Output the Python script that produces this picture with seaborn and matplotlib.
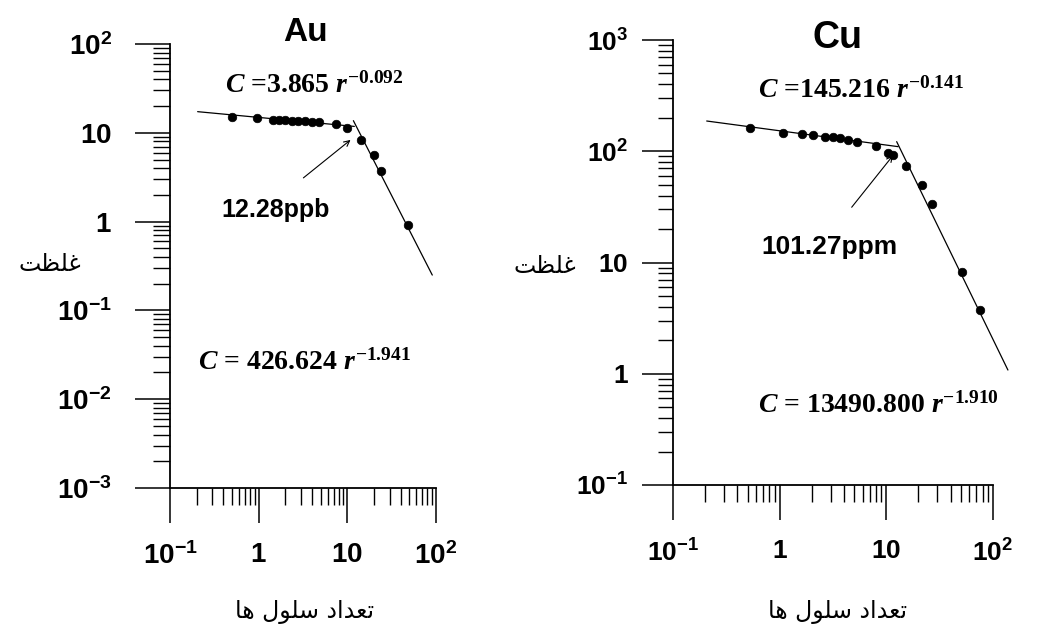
import matplotlib
matplotlib.use("Agg")
import matplotlib.pyplot as plt
import matplotlib.ticker as mticker
import seaborn as sns

# Au: number of cells vs concentration (ppb)
au_cells = [0.50, 0.96, 1.45, 1.7, 2.0, 2.4, 2.8, 3.3, 4.0, 4.8, 7.5, 9.8, 14.3, 20.1, 23.9, 48.9]
au_conc = [15.0, 14.6, 14.0, 13.9, 13.8, 13.7, 13.6, 13.5, 13.4, 13.2, 12.6, 11.3, 8.3, 5.6, 3.67, 0.92]
# fitted segments (end points)
au_fit1_x = [0.205, 12.0]
au_fit1_y = [17.3, 11.8]
au_fit2_x = [11.7, 90.8]
au_fit2_y = [13.7, 0.25]

# Cu: number of cells vs concentration (ppm)
cu_cells = [0.527, 1.07, 1.61, 2.07, 2.66, 3.18, 3.67, 4.4, 5.27, 8.0, 10.4, 11.5, 15.3, 21.4, 26.6, 50.8, 75.3]
cu_conc = [161, 145, 142, 139, 134, 133, 131, 126, 122, 112, 97, 93, 73.6, 49.5, 33.6, 8.26, 3.74]
cu_fit1_x = [0.207, 12.9]
cu_fit1_y = [187, 110]
cu_fit2_x = [12.5, 138]
cu_fit2_y = [122, 1.08]

x_ticks = [0.1, 1, 10, 100]
x_labels = [r"$\mathsf{10^{-1}}$", r"$\mathsf{1}$", r"$\mathsf{10}$", r"$\mathsf{10^{2}}$"]
au_y_ticks = [1e-3, 1e-2, 1e-1, 1, 10, 100]
au_y_labels = [r"$\mathsf{10^{-3}}$", r"$\mathsf{10^{-2}}$", r"$\mathsf{10^{-1}}$",
               r"$\mathsf{1}$", r"$\mathsf{10}$", r"$\mathsf{10^{2}}$"]
cu_y_ticks = [0.1, 1, 10, 100, 1000]
cu_y_labels = [r"$\mathsf{10^{-1}}$", r"$\mathsf{1}$", r"$\mathsf{10}$",
               r"$\mathsf{10^{2}}$", r"$\mathsf{10^{3}}$"]

au_eq_top = r"$\mathit{C}$ =3.865 $\mathit{r}^{-0.092}$"
au_eq_bot = r"$\mathit{C}$ = 426.624 $\mathit{r}^{-1.941}$"
cu_eq_top = r"$\mathit{C}$ =145.216 $\mathit{r}^{-0.141}$"
cu_eq_bot = r"$\mathit{C}$ = 13490.800 $\mathit{r}^{-1.910}$"

# Persian labels, written in shaped presentation forms in visual order
# "غلظت" (concentration) and "تعداد سلول ها" (number of cells)
y_label_fa = "\uFE96\uFEC8\uFEE0\uFECF"
x_label_fa = "\uFE8E\uFEEB \uFEDD\uFEEE\uFEE0\uFEB3 \uFEA9\uFE8D\uFEAA\uFECC\uFE97"

sns.set_style("ticks")
plt.rcParams["font.family"] = ["Liberation Sans", "DejaVu Sans"]
plt.rcParams["text.color"] = "black"
plt.rcParams["axes.labelcolor"] = "black"
plt.rcParams["xtick.color"] = "black"
plt.rcParams["ytick.color"] = "black"
plt.rcParams["mathtext.fontset"] = "custom"
plt.rcParams["mathtext.rm"] = "Liberation Serif:bold"
plt.rcParams["mathtext.it"] = "Liberation Serif:italic:bold"
plt.rcParams["mathtext.sf"] = "Liberation Sans:bold"
plt.rcParams["mathtext.bf"] = "Liberation Sans:bold"


def style_axis(ax, yticks, ylabels, ylim, ymaj, ymin, ypad, tick_fs):
    ax.set_xscale("log")
    ax.set_yscale("log")
    ax.set_xlim(0.1, 100)
    ax.set_ylim(*ylim)
    ax.set_xticks(x_ticks, x_labels)
    ax.set_yticks(yticks, ylabels)
    ax.xaxis.set_minor_locator(mticker.LogLocator(base=10, subs=range(2, 10), numticks=20))
    ax.yaxis.set_minor_locator(mticker.LogLocator(base=10, subs=range(2, 10), numticks=20))
    ax.xaxis.set_minor_formatter(mticker.NullFormatter())
    ax.yaxis.set_minor_formatter(mticker.NullFormatter())
    ax.tick_params(axis="x", which="major", direction="out", length=25, width=1.1,
                   pad=14, labelsize=tick_fs, colors="black")
    ax.tick_params(axis="x", which="minor", direction="out", length=12, width=1.0)
    ax.tick_params(axis="y", which="major", direction="out", length=ymaj, width=1.1,
                   pad=ypad, labelsize=tick_fs, colors="black")
    ax.tick_params(axis="y", which="minor", direction="out", length=ymin, width=1.0)
    for s in ["top", "right"]:
        ax.spines[s].set_visible(False)
    for s in ["left", "bottom"]:
        ax.spines[s].set_linewidth(1.3)
        ax.spines[s].set_color("black")
    ax.set_xlabel("")
    ax.set_ylabel("")


def draw_panel(ax, cells, conc, f1x, f1y, f2x, f2y):
    sns.lineplot(x=f1x, y=f1y, ax=ax, color="black", lw=0.9, estimator=None,
                 sort=False, clip_on=False)
    sns.lineplot(x=f2x, y=f2y, ax=ax, color="black", lw=0.9, estimator=None,
                 sort=False, clip_on=False)
    sns.scatterplot(x=cells, y=conc, ax=ax, color="black", marker="o", s=38,
                    edgecolor="black", linewidth=0.5, zorder=3)


fig = plt.figure(figsize=(10.56, 6.28), dpi=100)
ax1 = fig.add_axes([170 / 1056, 1 - 488 / 628, 266 / 1056, 444 / 628])
ax2 = fig.add_axes([673 / 1056, 1 - 485 / 628, 320 / 1056, 445 / 628])

# Au panel
draw_panel(ax1, au_cells, au_conc, au_fit1_x, au_fit1_y, au_fit2_x, au_fit2_y)
style_axis(ax1, au_y_ticks, au_y_labels, (1e-3, 100), 25, 12, 17, 20)
ax1.text(0.508, 1.027, "Au", transform=ax1.transAxes, ha="center", va="center",
         fontsize=24, fontweight="bold")
ax1.text(0.207, 0.89, au_eq_top, transform=ax1.transAxes, ha="left", va="baseline",
         fontsize=20, family="Liberation Serif", fontweight="bold")
ax1.text(0.105, 0.266, au_eq_bot, transform=ax1.transAxes, ha="left", va="baseline",
         fontsize=20, family="Liberation Serif", fontweight="bold")
ax1.annotate("", xy=(11.5, 8.7), xytext=(3.02, 2.97),
             arrowprops=dict(arrowstyle="->", color="black", lw=0.8, mutation_scale=10))
ax1.text(0.398, 0.626, "12.28ppb", transform=ax1.transAxes, ha="center", va="center",
         fontsize=18, fontweight="bold")

# Cu panel
draw_panel(ax2, cu_cells, cu_conc, cu_fit1_x, cu_fit1_y, cu_fit2_x, cu_fit2_y)
style_axis(ax2, cu_y_ticks, cu_y_labels, (0.1, 1000), 22, 11, 10, 19)
ax2.text(0.513, 1.004, "Cu", transform=ax2.transAxes, ha="center", va="center",
         fontsize=27, fontweight="bold")
ax2.text(0.266, 0.87, cu_eq_top, transform=ax2.transAxes, ha="left", va="baseline",
         fontsize=20, family="Liberation Serif", fontweight="bold")
ax2.text(0.266, 0.162, cu_eq_bot, transform=ax2.transAxes, ha="left", va="baseline",
         fontsize=20, family="Liberation Serif", fontweight="bold")
ax2.annotate("", xy=(12.0, 96), xytext=(4.56, 30),
             arrowprops=dict(arrowstyle="->", color="black", lw=0.8, mutation_scale=10))
ax2.text(0.489, 0.535, "101.27ppm", transform=ax2.transAxes, ha="center", va="center",
         fontsize=19, fontweight="bold")

# Persian axis labels
for xc, yc in [(50 / 1056, 1 - 264 / 628), (545 / 1056, 1 - 266 / 628)]:
    fig.text(xc, yc, y_label_fa, ha="center", va="center", fontsize=17,
             family=["DejaVu Sans"])
for xc in [305 / 1056, 838 / 1056]:
    fig.text(xc, 1 - 612 / 628, x_label_fa, ha="center", va="center", fontsize=17,
             family=["DejaVu Sans"])

fig.savefig("out.png", dpi=100, facecolor="white")
